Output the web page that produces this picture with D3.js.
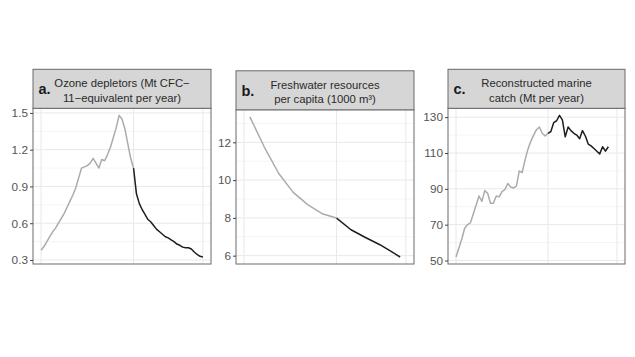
<!DOCTYPE html>
<html>
<head>
<meta charset="utf-8">
<script src="https://cdn.jsdelivr.net/npm/d3@7"></script>
<style>
  html, body { margin: 0; padding: 0; background: #fff; }
  svg { display: block; }
  text { font-family: "Liberation Sans", Arial, sans-serif; }
</style>
</head>
<body>
<svg id="chart" width="635" height="357"></svg>
<script>
// ---------------- data ----------------
const ozoneYears = [1960,1961,1962,1963,1964,1965,1966,1967,1968,1969,1970,1971,1972,1973,1974,1975,1976,1977,1978,1979,
  1980,1981,1982,1983,1984,1985,1986,1987,1988,1989,1990,1991,1992,1993,1994,1995,1996,1997,1998,1999,
  2000,2001,2002,2003,2004,2005,2006,2007,2008,2009,2010,2011,2012,2013,2014,2015,2016];
const ozoneValues = [0.38,0.41,0.45,0.49,0.53,0.56,0.60,0.64,0.68,0.73,0.78,0.83,0.89,0.97,1.05,1.06,1.07,1.09,1.13,1.09,
  1.05,1.12,1.11,1.16,1.22,1.30,1.38,1.48,1.45,1.37,1.25,1.13,1.05,0.84,0.76,0.71,0.67,0.63,0.61,0.58,
  0.55,0.53,0.51,0.49,0.48,0.465,0.45,0.43,0.42,0.405,0.40,0.40,0.39,0.365,0.345,0.33,0.325];

const freshYears = [1962,1967,1972,1977,1982,1987,1992,1997,2002,2007,2012,2014];
const freshValues = [13.35,11.75,10.35,9.35,8.7,8.22,7.99,7.37,6.96,6.58,6.12,5.93];

const catchYears = [1960,1961,1962,1963,1964,1965,1966,1967,1968,1969,1970,1971,1972,1973,1974,1975,1976,1977,1978,1979,
  1980,1981,1982,1983,1984,1985,1986,1987,1988,1989,1990,1991,1992,1993,1994,1995,1996,1997,1998,1999,
  2000,2001,2002,2003,2004,2005,2006,2007,2008,2009,2010,2011,2012,2013];
const catchValues = [52,57,62,68,70,71,76,81,86,83,89,87.5,82,82,86,85.5,88.5,89.5,93,91,
  90.5,91.5,100,99,106,112,116.5,120,123,124.5,121,119.5,121,122,127,128,131,128.5,119,124.5,
  122.5,121,120,118,122.5,119.5,115,114,112.5,111,109.5,113.5,111,113.5];

const ozoneTicks = [0.3,0.6,0.9,1.2,1.5];
const ozoneTickLabels = ["0.3","0.6","0.9","1.2","1.5"];
const freshTicks = [6,8,10,12];
const freshTickLabels = ["6","8","10","12"];
const catchTicks = [50,70,90,110,130];
const catchTickLabels = ["50","70","90","110","130"];

const xBreaks = [1960,1992,2016];
const splitYear = 1992;

const panelLetters = ["a.","b.","c."];
const panelTitles = [
  ["Ozone depletors (Mt CFC\u2212","11\u2212equivalent per year)"],
  ["Freshwater resources","per capita (1000 m\u00B3)"],
  ["Reconstructed marine","catch (Mt per year)"]
];

// ---------------- layout ----------------
const svg = d3.select("#chart");
const layout = [
  {x0: 33,  x1: 211, top: 69.3, stripH: 39, bottom: 264},
  {x0: 236, x1: 414, top: 70.8, stripH: 39, bottom: 264},
  {x0: 448, x1: 625, top: 69.3, stripH: 39, bottom: 264}
];

const allYears = ozoneYears.concat(freshYears, catchYears);
const yrExt = d3.extent(allYears);
const yrPad = (yrExt[1] - yrExt[0]) * 0.05;
const xDomain = [yrExt[0] - yrPad, yrExt[1] + yrPad];

const panels = [
  {years: ozoneYears, values: ozoneValues, ticks: ozoneTicks, labels: ozoneTickLabels},
  {years: freshYears, values: freshValues, ticks: freshTicks, labels: freshTickLabels},
  {years: catchYears, values: catchValues, ticks: catchTicks, labels: catchTickLabels}
];

panels.forEach((p, i) => {
  const L = layout[i];
  const plotTop = L.top + L.stripH;
  const g = svg.append("g");

  const x = d3.scaleLinear().domain(xDomain).range([L.x0, L.x1]);
  const ext = d3.extent(p.values);
  const pad = (ext[1] - ext[0]) * 0.05;
  const y = d3.scaleLinear().domain([ext[0] - pad, ext[1] + pad]).range([L.bottom, plotTop]);

  g.append("rect").attr("x", L.x0).attr("y", plotTop)
    .attr("width", L.x1 - L.x0).attr("height", L.bottom - plotTop).attr("fill", "#fff");

  // minor horizontal grid
  const step = p.ticks[1] - p.ticks[0];
  const minors = [];
  for (let k = -1; k < p.ticks.length; k++) {
    const v = p.ticks[0] + step * (k + 0.5);
    if (v > y.domain()[0] && v < y.domain()[1]) minors.push(v);
  }
  g.selectAll(".minor").data(minors).enter().append("line")
    .attr("x1", L.x0).attr("x2", L.x1)
    .attr("y1", d => y(d)).attr("y2", d => y(d))
    .attr("stroke", "#f2f2f2").attr("stroke-width", 0.8);

  // major grid
  g.selectAll(".hmajor").data(p.ticks).enter().append("line")
    .attr("x1", L.x0).attr("x2", L.x1)
    .attr("y1", d => y(d)).attr("y2", d => y(d))
    .attr("stroke", "#e8e8e8").attr("stroke-width", 1);
  g.selectAll(".vmajor").data(xBreaks).enter().append("line")
    .attr("y1", plotTop).attr("y2", L.bottom)
    .attr("x1", d => x(d)).attr("x2", d => x(d))
    .attr("stroke", "#e8e8e8").attr("stroke-width", 1);

  // lines
  const pts = p.years.map((yr, k) => ({yr, v: p.values[k]}));
  const line = d3.line().x(d => x(d.yr)).y(d => y(d.v));
  g.append("path").datum(pts.filter(d => d.yr <= splitYear))
    .attr("d", line).attr("fill", "none")
    .attr("stroke", "#ababab").attr("stroke-width", 1.5).attr("stroke-linejoin", "round");
  g.append("path").datum(pts.filter(d => d.yr >= splitYear))
    .attr("d", line).attr("fill", "none")
    .attr("stroke", "#1e1e1e").attr("stroke-width", 1.5).attr("stroke-linejoin", "round");

  // panel border
  g.append("rect").attr("x", L.x0).attr("y", plotTop)
    .attr("width", L.x1 - L.x0).attr("height", L.bottom - plotTop)
    .attr("fill", "none").attr("stroke", "#6a6a6a").attr("stroke-width", 1);

  // y axis
  const ax = g.append("g").attr("transform", `translate(${L.x0},0)`)
    .call(d3.axisLeft(y).tickValues(p.ticks).tickSize(3).tickPadding(2)
      .tickFormat((d, k) => p.labels[k]));
  ax.select(".domain").remove();
  ax.selectAll(".tick line").attr("stroke", "#444");
  ax.selectAll(".tick text").attr("fill", "#555").style("font-size", "11.8px")
    .style("font-family", "'Liberation Sans', Arial, sans-serif");

  // strip
  g.append("rect").attr("x", L.x0).attr("y", L.top)
    .attr("width", L.x1 - L.x0).attr("height", L.stripH)
    .attr("fill", "#d6d6d6").attr("stroke", "#6a6a6a").attr("stroke-width", 1);
  const cx = (L.x0 + L.x1) / 2;
  panelTitles[i].forEach((t, k) => {
    g.append("text").attr("x", cx).attr("y", L.top + 17.8 + k * 14.6)
      .attr("text-anchor", "middle").attr("fill", "#2a2a2a")
      .style("font-size", "11.3px").text(t);
  });
  g.append("text").attr("x", L.x0 + 5.5).attr("y", L.top + 25)
    .attr("fill", "#1a1a1a").style("font-size", "14.5px").style("font-weight", "bold")
    .text(panelLetters[i]);
});
</script>
</body>
</html>
